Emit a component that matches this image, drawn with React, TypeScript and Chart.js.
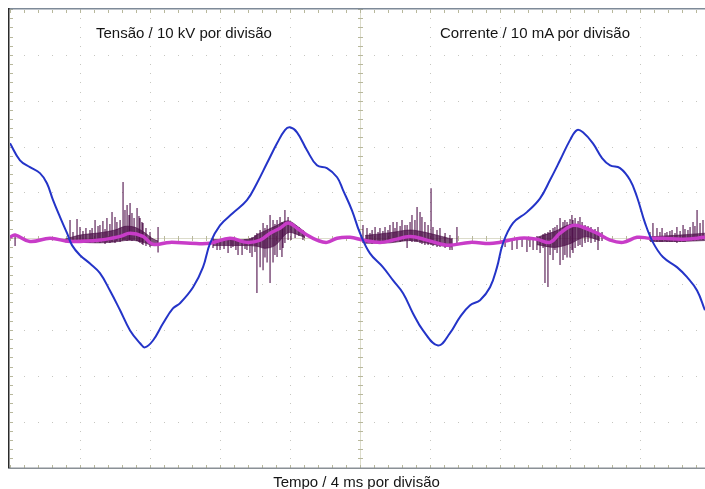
import React, { useEffect, useRef } from "react";
import { Chart, registerables } from "chart.js";

Chart.register(...registerables);

// ---- axis setup (oscilloscope graticule: 4 ms/div, 10 kV/div, 10 mA/div) ----
const TIME_MAX = 39.714; // visible part of the 40 ms screen
const majorTimes = [0, 4, 8, 12, 16, 20, 24, 28, 32, 36, 40];
const minorTimeStep = 0.8;
const majorLevels = [-50, -40, -30, -20, -10, 0, 10, 20, 30, 40, 50];
const minorLevelStep = 2;

// ---- voltage trace (kV) ----
const voltTime = [0, 0.57, 1.14, 1.71, 2.11, 2.46, 2.86, 3.26, 3.54, 4.0, 4.57, 5.14, 5.71, 6.29, 6.86, 7.43, 7.71, 8.17, 8.74, 9.31, 9.71, 10.46, 11.03, 11.43, 12.0, 12.74, 13.54, 14.11, 14.69, 15.26, 15.71, 16.0, 16.4, 16.97, 17.54, 18.11, 18.69, 19.03, 19.54, 20.0, 20.57, 21.31, 21.89, 22.46, 23.03, 23.6, 24.46, 25.14, 25.71, 26.29, 26.86, 27.43, 27.83, 28.17, 28.74, 29.54, 30.29, 30.86, 31.43, 32.0, 32.4, 32.74, 33.31, 33.83, 34.29, 34.86, 35.43, 35.83, 36.29, 36.74, 37.31, 38.11, 38.69, 39.26, 39.71];
const voltKV = [20.7, 17.0, 15.5, 14.2, 12.0, 8.3, 4.6, 1.1, -1.5, -3.7, -5.5, -7.6, -11.4, -15.7, -20.1, -22.9, -23.8, -22.3, -18.6, -15.3, -14.2, -10.7, -6.3, -1.1, 2.8, 5.5, 8.3, 12.0, 16.4, 20.7, 23.6, 24.2, 23.1, 19.2, 15.9, 15.3, 13.3, 10.5, 6.1, 1.1, -3.3, -6.3, -9.2, -12.0, -16.4, -20.1, -23.4, -20.7, -17.2, -14.6, -13.5, -10.7, -6.3, -1.1, 3.3, 5.7, 8.7, 12.7, 17.0, 21.4, 23.6, 23.1, 20.7, 17.5, 15.9, 15.3, 12.7, 9.0, 3.3, -0.9, -4.1, -6.3, -8.5, -11.4, -15.7];

// ---- current trace, mean (mA) ----
const currTime = [0, 0.29, 1.14, 2.29, 3.43, 5.14, 6.29, 6.86, 7.6, 8.17, 9.14, 10.29, 11.43, 12.57, 13.54, 14.29, 14.86, 15.43, 15.89, 16.4, 16.97, 17.54, 18.11, 18.69, 19.43, 20.17, 21.14, 21.89, 22.86, 23.83, 24.97, 26.29, 27.6, 29.14, 30.11, 30.86, 31.43, 32.17, 32.74, 33.54, 34.29, 35.03, 35.83, 36.57, 37.31, 38.46, 39.71];
const currMA = [0.2, 0.7, -0.7, 0, -0.7, -0.4, 0.4, 1.1, 0.4, -1.3, -0.9, -1.1, -1.1, 0, -0.9, -0.4, 1.1, 2.2, 3.3, 2.2, 0.7, -0.4, -0.9, 0, 0.2, -0.4, -0.9, -0.4, 0.4, -0.4, -1.5, -0.9, -1.1, 0, -0.2, -0.9, 1.1, 2.8, 2.4, 1.1, -0.4, -0.9, 0.2, 0, 0, -0.2, 0.2];

// ---- current noise envelope (mA), null = gap between bursts ----
const envTime = [3.14, 4.0, 5.14, 6.0, 6.57, 7.14, 7.71, 8.11, 8.46, 10.0, 11.6, 13.71, 14.17, 14.57, 15.14, 15.89, 16.57, 16.86, 18.5, 20.29, 21.71, 22.86, 23.71, 24.57, 25.26, 27.5, 30.11, 31.14, 32.0, 32.86, 33.71, 35.0, 36.57, 38.29, 39.71];
const envHigh = [-0.2, 0.7, 1.2, 1.8, 2.6, 2.4, 1.2, 0.0, -0.6, null, -0.3, -0.2, 0.9, 1.6, 2.6, 3.8, 2.2, 1.3, null, 0.6, 1.2, 1.8, 1.3, 0.5, -0.2, null, 0.2, 1.5, 3.0, 2.5, 1.0, null, 0.3, 0.7, 1.1];
const envLow = [-0.8, -0.9, -1.0, -0.8, -0.5, -0.5, -1.0, -1.6, -1.5, null, -1.6, -1.6, -1.8, -2.2, -1.6, 1.2, 0.6, 0.1, null, -1.1, -1.0, -0.5, -1.0, -1.6, -1.9, null, -1.4, -2.0, -1.2, 0.3, -0.5, null, -0.7, -0.7, -0.5];

// ---- current noise spikes (mA) ----
const spikeTime = [0.29, 3.43, 3.6, 3.83, 4.0, 4.17, 4.34, 4.57, 4.69, 4.86, 5.03, 5.14, 5.31, 5.43, 5.54, 5.71, 5.83, 6.0, 6.11, 6.29, 6.46, 6.57, 6.69, 6.8, 6.86, 6.97, 7.09, 7.26, 7.37, 7.43, 7.54, 7.6, 7.77, 8.0, 8.46,
  11.6, 11.83, 12.0, 12.23, 12.46, 12.63, 12.74, 12.91, 13.03, 13.26, 13.43, 13.54, 13.71, 13.83, 14.0, 14.11, 14.29, 14.46, 14.57, 14.69, 14.86, 15.03, 15.14, 15.26, 15.43, 15.54, 15.6, 15.71, 15.89, 16.06, 16.29, 16.51, 16.74,
  20.17, 20.4, 20.57, 20.69, 20.86, 21.03, 21.14, 21.31, 21.43, 21.6, 21.71, 21.89, 22.0, 22.11, 22.29, 22.4, 22.57, 22.69, 22.86, 22.97, 23.14, 23.26, 23.43, 23.54, 23.71, 23.89, 24.06, 24.17, 24.4, 24.57, 24.86, 25.14, 25.26, 25.54,
  28.29, 28.69, 28.97, 29.26, 29.54, 29.71, 29.89,
  30.11, 30.29, 30.46, 30.57, 30.74, 30.86, 31.03, 31.14, 31.26, 31.43, 31.6, 31.71, 31.83, 32.0, 32.11, 32.17, 32.29, 32.46, 32.57, 32.69, 32.86, 33.03, 33.2, 33.43, 33.6, 33.83,
  36.57, 36.74, 36.97, 37.14, 37.26, 37.43, 37.54, 37.71, 37.83, 38.0, 38.11, 38.29, 38.46, 38.57, 38.74, 38.86, 39.03, 39.14, 39.26, 39.43, 39.6];
const spikeHigh = [0.5, 3.98, 1.36, 4.2, 2.45, 1.58, 2.24, 1.8, 2.24, 3.98, 2.67, 2.89, 3.76, 2.02, 4.42, 3.11, 5.72, 4.64, 3.54, 3.98, 12.27, 6.16, 7.25, 5.07, 7.69, 5.51, 4.42, 6.6, 4.85, 4.42, 3.54, 3.33, 2.24, 1.36, 2.45,
  0.05, -0.38, -0.16, -0.38, -0.38, -0.38, -0.16, -0.38, -0.16, -0.38, -0.16, -0.16, 0.05, 0.27, 0.71, 1.14, 1.8, 3.33, 2.24, 2.89, 5.07, 3.98, 3.11, 3.98, 4.64, 3.54, 3.33, 6.16, 4.64, 3.54, 2.89, 2.45, 1.8,
  2.89, 2.24, 1.14, 1.8, 2.45, 1.36, 2.24, 1.58, 2.45, 1.8, 2.89, 3.54, 2.24, 3.54, 2.67, 3.98, 2.89, 2.89, 3.54, 5.07, 3.98, 6.82, 5.72, 4.64, 3.54, 2.89, 10.91, 2.45, 1.8, 2.24, 1.14, 0.71, 0.05, 2.45,
  -0.16, -0.16, -0.16, -0.16, -0.16, 0.05, 0.05,
  0.49, 0.27, 0.93, 1.14, 1.36, 1.8, 2.24, 2.45, 2.89, 4.42, 3.54, 3.98, 3.54, 4.2, 5.07, 3.98, 4.42, 3.76, 4.64, 3.54, 2.89, 2.67, 2.45, 2.02, 2.45, 1.36,
  1.36, 3.33, 2.24, 1.36, 2.24, 1.14, 1.36, 1.58, 1.8, 1.14, 2.45, 1.58, 2.89, 2.02, 1.8, 2.45, 3.54, 2.67, 6.16, 3.33, 3.98];
const spikeLow = [-1.69, -0.82, -0.82, -1.04, -0.82, -1.04, -0.82, -1.04, -0.82, -1.04, -0.82, -1.04, -0.82, -1.25, -0.82, -1.04, -0.82, -1.04, -0.6, -0.82, -0.38, -0.38, -0.6, -0.38, -0.38, -0.6, -0.38, -0.6, -0.82, -1.04, -1.25, -1.47, -1.69, -1.91, -3.11,
  -2.13, -2.56, -2.56, -2.34, -3.22, -2.13, -1.91, -2.56, -3.65, -3.65, -2.34, -2.56, -3.22, -4.09, -3.0, -11.94, -6.32, -6.98, -4.2, -5.29, -9.76, -5.29, -3.65, -4.09, -2.56, -4.09, -2.13, -1.04, -0.38, -0.38, 0.05, 0.49, -0.38,
  -1.04, -1.04, -1.04, -1.25, -1.04, -1.04, -1.04, -1.04, -1.04, -0.82, -0.82, -0.82, -0.82, -0.6, -0.82, -0.6, -0.6, -2.13, -0.6, -0.82, -0.82, -0.82, -1.04, -1.25, -1.47, -1.47, -1.47, -1.69, -1.91, -1.91, -2.13, -2.56, -2.56, -1.04,
  -1.91, -2.56, -2.34, -1.91, -3.0, -1.91, -2.56,
  -2.56, -3.22, -2.13, -9.76, -10.63, -3.65, -4.74, -2.56, -3.22, -5.83, -4.74, -3.65, -4.2, -4.2, -2.56, -3.22, -2.13, -1.69, -1.47, -1.91, -1.04, -0.82, -1.04, -0.82, -2.56, -0.6,
  -0.6, -0.6, -0.82, -0.82, -0.82, -0.6, -0.82, -0.82, -0.82, -0.82, -1.04, -0.82, -0.82, -0.82, -0.6, -0.6, -0.6, -0.38, -0.38, -0.38, -0.38];

const rangeStep = (a: number, b: number, s: number) => {
  const out: number[] = [];
  const n = Math.round((b - a) / s);
  for (let i = 0; i <= n; i++) out.push(+(a + i * s).toFixed(4));
  return out;
};

const graticule = {
  id: "graticule",
  beforeDatasetsDraw(chart: any) {
    const { ctx, chartArea } = chart;
    const { left, right, top, bottom } = chartArea;
    const xs = chart.scales.x;
    const ys = chart.scales.y;
    const minorT = rangeStep(0, 40, minorTimeStep);
    const minorV = rangeStep(-50, 50, minorLevelStep);
    ctx.save();
    // dotted major lines
    ctx.fillStyle = "#c6c6c0";
    for (const t of majorTimes) {
      if (t === 0 || t === 20) continue;
      const px = Math.round(xs.getPixelForValue(t));
      if (px > right) continue;
      for (const v of minorV) {
        const py = Math.round(ys.getPixelForValue(v));
        ctx.fillRect(px, py, 1, 1);
      }
    }
    for (const v of majorLevels) {
      if (v === 0 || v === 50 || v === -50) continue;
      const py = Math.round(ys.getPixelForValue(v));
      for (const t of minorT) {
        const px = Math.round(xs.getPixelForValue(t));
        if (px > right) continue;
        ctx.fillRect(px, py, 1, 1);
      }
    }
    // center cross
    const cx = Math.round(xs.getPixelForValue(20));
    const cy = Math.round(ys.getPixelForValue(0));
    ctx.fillStyle = "#dcdccb";
    ctx.fillRect(cx, top, 1, bottom - top);
    ctx.fillRect(left, cy, right - left, 1);
    ctx.fillStyle = "#b8b89c";
    for (const v of minorV) {
      const py = Math.round(ys.getPixelForValue(v));
      ctx.fillRect(cx - 2, py, 5, 1);
      ctx.fillRect(left, py, 3, 1);
    }
    for (const t of minorT) {
      const px = Math.round(xs.getPixelForValue(t));
      if (px > right) continue;
      ctx.fillRect(px, cy - 2, 1, 5);
      ctx.fillRect(px, Math.round(bottom) - 3, 1, 3);
      ctx.fillRect(px, Math.round(top) + 1, 1, 3);
    }
    // borders
    ctx.fillStyle = "#7e8a98";
    ctx.fillRect(left - 2, Math.round(top) - 1, right - left + 2, 1.5);
    ctx.fillStyle = "#8a9096";
    ctx.fillRect(left - 2, Math.round(bottom) - 0.5, right - left + 2, 1.5);
    ctx.fillStyle = "#2a2a2a";
    ctx.fillRect(left - 2, Math.round(top) - 1, 1.5, bottom - top + 1.5);
    ctx.restore();
  },
};

export default function App() {
  const canvasRef = useRef<HTMLCanvasElement | null>(null);

  useEffect(() => {
    if (!canvasRef.current) return;
    const voltData = voltTime.map((t, i) => ({ x: t, y: voltKV[i] }));
    const currData = currTime.map((t, i) => ({ x: t, y: currMA[i] }));
    const envHiData = envTime.map((t, i) => ({ x: t, y: envHigh[i] }));
    const envLoData = envTime.map((t, i) => ({ x: t, y: envLow[i] }));
    const spikeData: { x: number; y: number | null }[] = [];
    spikeTime.forEach((t, i) => {
      spikeData.push({ x: t, y: spikeLow[i] });
      spikeData.push({ x: t, y: spikeHigh[i] });
      spikeData.push({ x: t, y: null });
    });

    const chart = new Chart(canvasRef.current, {
      type: "line",
      data: {
        datasets: [
          {
            label: "Tensão",
            data: voltData,
            yAxisID: "y",
            borderColor: "#2434c8",
            borderWidth: 2,
            tension: 0.4,
            pointRadius: 0,
            fill: false,
          },
          {
            label: "Corrente",
            data: currData,
            yAxisID: "y1",
            borderColor: "#c83cc8",
            borderWidth: 3.5,
            tension: 0.4,
            pointRadius: 0,
            fill: false,
          },
          {
            label: "Ruído",
            data: spikeData,
            yAxisID: "y1",
            borderColor: "rgba(76,12,72,0.9)",
            borderWidth: 1.2,
            tension: 0,
            spanGaps: false,
            pointRadius: 0,
            fill: false,
          },
          {
            label: "Envelope sup",
            data: envHiData,
            yAxisID: "y1",
            borderColor: "rgba(70,8,66,0.6)",
            backgroundColor: "rgba(70,8,66,0.7)",
            borderWidth: 1,
            tension: 0.3,
            spanGaps: false,
            pointRadius: 0,
            fill: "+1",
          },
          {
            label: "Envelope inf",
            data: envLoData,
            yAxisID: "y1",
            borderColor: "rgba(70,8,66,0.6)",
            borderWidth: 1,
            tension: 0.3,
            spanGaps: false,
            pointRadius: 0,
            fill: false,
          },
        ],
      },
      options: {
        responsive: false,
        animation: false,
        devicePixelRatio: 1,
        events: [],
        layout: { padding: { left: 10, top: 9, right: 0, bottom: 21.5 } },
        plugins: {
          legend: { display: false },
          tooltip: { enabled: false },
          title: { display: false },
        },
        scales: {
          x: { type: "linear", min: 0, max: TIME_MAX, display: false },
          y: { type: "linear", min: -50, max: 50, display: false },
          y1: { type: "linear", min: -50, max: 50, display: false },
        },
      },
      plugins: [graticule],
    } as any);
    return () => chart.destroy();
  }, []);

  const label = (x: number, y: number): React.CSSProperties => ({
    position: "absolute",
    left: x,
    top: y,
    transform: "translate(-50%, -50%)",
    fontSize: 15,
    lineHeight: "15px",
    whiteSpace: "nowrap",
    color: "#151515",
  });

  return (
    <div
      style={{
        position: "absolute",
        left: 0,
        top: 0,
        width: 705,
        height: 489,
        background: "#ffffff",
        overflow: "hidden",
        fontFamily: '"Liberation Sans", Arial, Helvetica, sans-serif',
      }}
    >
      <canvas ref={canvasRef} width={705} height={489} style={{ position: "absolute", left: 0, top: 0 }} />
      <div style={label(184, 32)}>Tensão / 10 kV por divisão</div>
      <div style={label(535, 32)}>Corrente / 10 mA por divisão</div>
      <div style={label(356.5, 481)}>Tempo / 4 ms por divisão</div>
    </div>
  );
}
